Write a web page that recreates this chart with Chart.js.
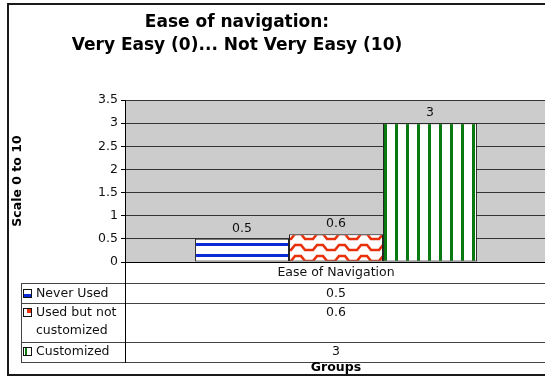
<!DOCTYPE html>
<html>
<head>
<meta charset="utf-8">
<script src="https://cdn.jsdelivr.net/npm/chart.js@4/dist/chart.umd.min.js"></script>
<style>
  html, body { margin: 0; padding: 0; background: #fff; overflow: hidden; }
  #wrap { position: relative; width: 560px; height: 377px; }
</style>
</head>
<body>
<div id="wrap"><canvas id="c" width="560" height="377"></canvas></div>
<script>
// Chart content
const titleLines = ['Ease of navigation:', 'Very Easy (0)... Not Very Easy (10)'];
const yAxisTitle = 'Scale 0 to 10';
const xAxisTitle = 'Groups';
const categories = ['Ease of Navigation'];
const seriesNames = ['Never Used', 'Used but not customized', 'Customized'];
const seriesLabelLines = [['Never Used'], ['Used but not', 'customized'], ['Customized']];
const neverUsed = [0.5];
const usedNotCustomized = [0.6];
const customized = [3];
const yMax = 3.5;
const yStep = 0.5;

const FONT = '"DejaVu Sans", Verdana, sans-serif';
const TXT = 12.5;

// Fill patterns for the bars
function makeTile(w, h, draw) {
  const c = document.createElement('canvas');
  c.width = w; c.height = h;
  const g = c.getContext('2d');
  g.fillStyle = '#ffffff';
  g.fillRect(0, 0, w, h);
  draw(g);
  return document.createElement('canvas').getContext('2d').createPattern(c, 'repeat');
}
const blueStripes = makeTile(11, 11, g => {
  g.fillStyle = '#0a2ad8';
  g.fillRect(0, 1, 11, 3);
});
const redWaves = makeTile(22, 11, g => {
  g.strokeStyle = '#e8300a';
  g.lineWidth = 2.6;
  g.beginPath();
  g.moveTo(-1, 8); g.lineTo(5, 8); g.lineTo(9, 3); g.lineTo(15, 3); g.lineTo(19, 8); g.lineTo(23, 8);
  g.stroke();
});
const greenStripes = makeTile(11, 11, g => {
  g.fillStyle = '#087a10';
  g.fillRect(0, 0, 2, 11);
  g.fillRect(10, 0, 1, 11);
});
const patterns = [blueStripes, redWaves, greenStripes];

// Plot background, outer frame, titles and the data table underneath
const decor = {
  id: 'decor',
  beforeDraw(chart) {
    const { ctx, chartArea: a } = chart;
    ctx.save();
    ctx.fillStyle = '#cccccc';
    ctx.fillRect(a.left, a.top, a.right - a.left, a.bottom - a.top);
    ctx.restore();
  },
  afterDraw(chart) {
    const { ctx, chartArea: a } = chart;
    const xs = chart.scales.x;
    const cx = xs.getPixelForValue(0);
    ctx.save();

    // frame
    ctx.strokeStyle = '#1a1a1a';
    ctx.lineWidth = 2;
    ctx.strokeRect(8, 4, 600, 371);

    // title
    ctx.fillStyle = '#000';
    ctx.font = 'bold 17px ' + FONT;
    ctx.textAlign = 'center';
    ctx.textBaseline = 'middle';
    ctx.fillText(titleLines[0], 237, 23);
    ctx.fillText(titleLines[1], 237, 46);

    // y-axis title
    ctx.save();
    ctx.translate(18, 181);
    ctx.rotate(-Math.PI / 2);
    ctx.font = 'bold 12.5px ' + FONT;
    ctx.fillText(yAxisTitle, 0, 0);
    ctx.restore();

    // value labels above bars
    ctx.font = TXT + 'px ' + FONT;
    ctx.fillStyle = '#111';
    ctx.textBaseline = 'bottom';
    chart.data.datasets.forEach((ds, i) => {
      const bar = chart.getDatasetMeta(i).data[0];
      ctx.fillText(String(ds.data[0]), bar.x, bar.y - 4);
    });

    // data table
    const tLeft = 21, rowLines = [283, 303, 342, 362];
    const right = 600;
    ctx.strokeStyle = '#444';
    ctx.lineWidth = 1;
    ctx.beginPath();
    rowLines.forEach(y => { ctx.moveTo(tLeft, y + 0.5); ctx.lineTo(right, y + 0.5); });
    ctx.moveTo(tLeft + 0.5, rowLines[0]); ctx.lineTo(tLeft + 0.5, rowLines[3] + 1);
    ctx.stroke();
    ctx.strokeStyle = '#000';
    ctx.beginPath();
    ctx.moveTo(Math.round(a.left) + 0.5, a.bottom); ctx.lineTo(Math.round(a.left) + 0.5, rowLines[3] + 1);
    ctx.stroke();

    const rowText = [[294], [313, 331], [352]];
    ctx.textBaseline = 'middle';
    chart.data.datasets.forEach((ds, i) => {
      // legend key
      const ky = rowText[i][0] - 5;
      const kx = 23;
      ctx.fillStyle = '#fff';
      ctx.fillRect(kx, ky, 9, 9);
      if (i === 0) { ctx.fillStyle = '#0a2ad8'; ctx.fillRect(kx + 1, ky + 5, 7, 3); }
      if (i === 1) { ctx.fillStyle = '#e8300a'; ctx.fillRect(kx + 4, ky + 1, 4, 4); }
      if (i === 2) { ctx.fillStyle = '#087a10'; ctx.fillRect(kx + 2, ky + 1, 2, 7); }
      ctx.strokeStyle = '#111';
      ctx.strokeRect(kx + 0.5, ky + 0.5, 8, 8);
      // series name
      ctx.fillStyle = '#111';
      ctx.textAlign = 'left';
      seriesLabelLines[i].forEach((t, j) => ctx.fillText(t, 36, rowText[i][j]));
      // value
      ctx.textAlign = 'center';
      ctx.fillText(String(ds.data[0]), cx, rowText[i][0]);
    });

    // x-axis title
    ctx.font = 'bold 12.5px ' + FONT;
    ctx.fillStyle = '#000';
    ctx.fillText(xAxisTitle, cx, 368);
    ctx.restore();
  }
};

const datasets = [neverUsed, usedNotCustomized, customized].map((d, i) => ({
  label: seriesNames[i],
  data: d,
  backgroundColor: patterns[i],
  borderColor: '#222',
  borderWidth: 1,
  borderSkipped: false,
  categoryPercentage: 0.668,
  barPercentage: 1
}));

new Chart(document.getElementById('c'), {
  type: 'bar',
  data: { labels: categories, datasets },
  options: {
    responsive: false,
    animation: false,
    layout: { padding: { top: 100, right: 13, left: 0, bottom: 0 } },
    plugins: { legend: { display: false }, title: { display: false }, tooltip: { enabled: false } },
    scales: {
      x: {
        grid: { display: false, drawTicks: false },
        border: { color: '#000', width: 1 },
        ticks: { color: '#111', font: { family: FONT, size: TXT }, padding: 3 },
        afterFit(s) { s.height = 377 - 262; }
      },
      y: {
        min: 0,
        max: yMax,
        ticks: {
          stepSize: yStep, color: '#111', font: { family: FONT, size: TXT }, padding: 3,
          callback: v => String(v)
        },
        grid: { color: '#333', tickColor: '#000', tickLength: 4, lineWidth: 1 },
        border: { color: '#000', width: 1 },
        afterFit(s) { s.width = 125; }
      }
    }
  },
  plugins: [decor]
});
</script>
</body>
</html>
